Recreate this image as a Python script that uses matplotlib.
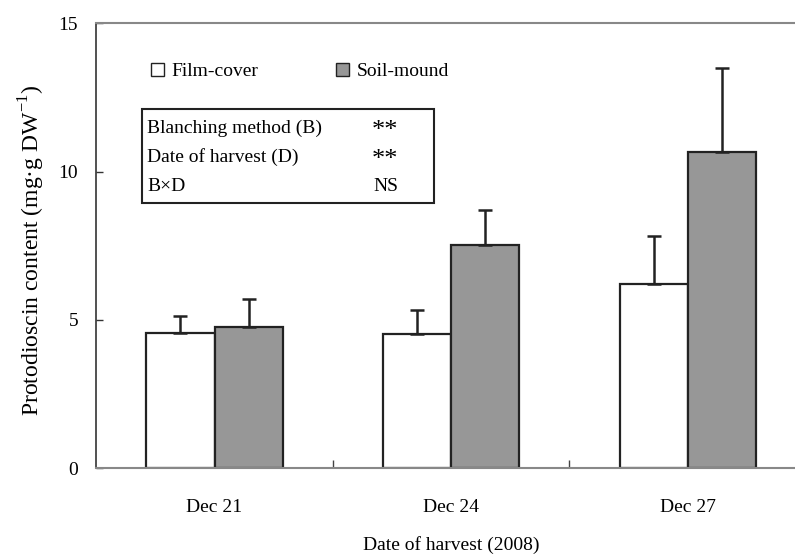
import matplotlib
matplotlib.use("Agg")
import matplotlib.pyplot as plt
import numpy as np
from matplotlib.patches import Patch, Rectangle
from matplotlib.ticker import FixedLocator

# data
dates = ["Dec 21", "Dec 24", "Dec 27"]
film_cover = [4.57, 4.51, 6.22]
film_err = [0.57, 0.82, 1.61]
soil_mound = [4.76, 7.52, 10.66]
soil_err = [0.94, 1.20, 2.82]

terms = ["Blanching method (B)", "Date of harvest (D)", "B\u00d7D"]
signif = ["**", "**", "NS"]

plt.rcParams["font.family"] = ["Liberation Serif", "DejaVu Serif"]
plt.rcParams["mathtext.fontset"] = "custom"
plt.rcParams["mathtext.rm"] = "Liberation Serif"
fs = 14

fig = plt.figure(figsize=(7.95, 5.56), dpi=100)
ax = fig.add_axes([0.121, 0.158, 0.893, 0.800])

x = np.arange(len(dates))
w = 0.2875
ekw = dict(elinewidth=1.8, capsize=5, capthick=1.8, ecolor="#222222")
ax.bar(x - w / 2, film_cover, w, color="white", edgecolor="#222222", linewidth=1.6,
       yerr=[np.zeros(3), film_err], error_kw=ekw, label="Film-cover")
ax.bar(x + w / 2, soil_mound, w, color="#979797", edgecolor="#222222", linewidth=1.6,
       yerr=[np.zeros(3), soil_err], error_kw=ekw, label="Soil-mound")

ax.set_xlim(-0.5, 2.5)
ax.set_ylim(0, 15)
ax.set_yticks([0, 5, 10, 15])
ax.set_xticks(x)
ax.set_xticklabels(dates)
ax.xaxis.set_minor_locator(FixedLocator([0.5, 1.5]))
ax.tick_params(axis="x", which="major", length=0, pad=22, labelsize=fs)
ax.tick_params(axis="x", which="minor", direction="in", length=6, width=1, color="#444444")
ax.tick_params(axis="y", direction="in", length=5, width=1, pad=13, labelsize=fs, color="#333333")

for s in ["top", "bottom"]:
    ax.spines[s].set_color("#888888")
    ax.spines[s].set_linewidth(1.5)
ax.spines["left"].set_color("#333333")
ax.spines["left"].set_linewidth(1.2)
ax.spines["right"].set_visible(False)

ax.set_xlabel("Date of harvest (2008)", fontsize=fs, labelpad=15)
ax.set_ylabel("Protodioscin content (mg\u00b7g DW$^{-1}$)", fontsize=17)
ax.yaxis.set_label_coords(-0.069, 0.49)

handles = [Patch(facecolor="white", edgecolor="#222222", linewidth=1.0),
           Patch(facecolor="#979797", edgecolor="#222222", linewidth=1.0)]
ax.legend(handles, ["Film-cover", "Soil-mound"], ncol=2, frameon=False,
          loc="upper left", bbox_to_anchor=(0.053, 0.95), fontsize=fs,
          handlelength=0.65, handleheight=0.65, handletextpad=0.4, columnspacing=4.0)

# significance box
box = Rectangle((0.065, 0.597), 0.411, 0.21, transform=ax.transAxes,
                fill=False, edgecolor="#222222", linewidth=1.5)
ax.add_patch(box)
for i, (t, s) in enumerate(zip(terms, signif)):
    yy = 0.765 - i * 0.066
    ax.text(0.072, yy, t, transform=ax.transAxes, fontsize=fs, va="center", ha="left")
    if s == "**":
        ax.text(0.425, yy - 0.006, s, transform=ax.transAxes, fontsize=19,
                va="center", ha="right")
    else:
        ax.text(0.425, yy, s, transform=ax.transAxes, fontsize=fs, va="center", ha="right")

fig.savefig("out.png", dpi=100)
